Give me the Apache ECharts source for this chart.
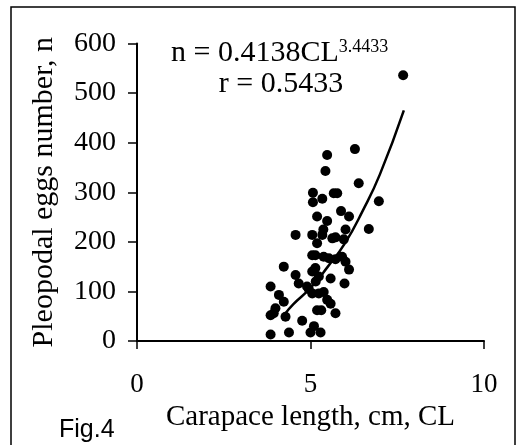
<!DOCTYPE html>
<html>
<head>
<meta charset="utf-8">
<script src="https://cdn.jsdelivr.net/npm/echarts@6/dist/echarts.min.js"></script>
<style>
  html, body { margin: 0; padding: 0; background: #fff; }
  #fig4 { width: 518px; height: 445px; }
</style>
</head>
<body>
<div id="fig4"></div>
<script>
// carapace length (cm) and egg count
var clValues = [7.67, 5.48, 6.28, 5.43, 6.39, 6.97, 6.68, 5.07, 5.07, 5.34,
  5.67, 5.77, 5.88, 6.11, 5.19, 5.48, 5.37, 5.05, 4.57, 5.34,
  5.63, 5.72, 6.01, 5.96, 5.19, 5.05, 5.14, 5.38, 5.53, 5.72,
  5.91, 6.01, 6.11, 5.98, 5.58, 5.14, 5.05, 5.24, 4.23, 4.57,
  4.66, 4.90, 5.05, 5.24, 5.38, 5.48, 5.58, 5.72, 5.19, 5.31,
  3.85, 4.09, 4.23, 3.99, 3.85, 4.28, 4.76, 4.38, 5.10, 5.00,
  5.29, 3.85, 3.94, 4.95, 5.15];
var eggValues = [536, 375, 387, 343, 318, 282, 226, 299, 280, 287,
  298, 298, 262, 251, 251, 242, 225, 214, 214, 214,
  207, 209, 225, 205, 197, 173, 173, 170, 167, 165,
  170, 160, 144, 116, 126, 147, 140, 130, 150, 133,
  116, 110, 96, 96, 99, 83, 75, 56, 62, 62,
  110, 93, 79, 66, 52, 49, 41, 17, 30, 17,
  17, 13, 56, 105, 120];

// fitted power curve n = 0.4138 CL^3.4433, as drawn
var fitX = [4.28, 4.5, 5.0, 5.5, 6.0, 6.5, 7.0, 7.69];
var fitY = [56, 74, 107, 150, 198, 262, 336, 465];

var xTicks = [0, 5, 10];
var yTicks = [0, 100, 200, 300, 400, 500, 600];

var points = clValues.map(function (x, i) { return [x, eggValues[i]]; });
var curve = fitX.map(function (x, i) { return [x, fitY[i]]; });

var serif = '"Liberation Serif", "Times New Roman", serif';

var myChart = echarts.init(document.getElementById('fig4'));
var option = {
  animation: false,
  backgroundColor: '#fff',
  grid: { left: 137, right: 34, top: 43.5, bottom: 104 },
  xAxis: {
    type: 'value',
    min: xTicks[0],
    max: xTicks[xTicks.length - 1],
    interval: 5,
    name: 'Carapace length, cm, CL',
    nameLocation: 'middle',
    nameGap: 44,
    nameTextStyle: { fontFamily: serif, fontSize: 29, color: '#000' },
    axisLine: { lineStyle: { color: '#000', width: 2 } },
    axisTick: { length: 8, lineStyle: { color: '#000', width: 1.5 } },
    axisLabel: { fontFamily: serif, fontSize: 27, color: '#000', margin: 30 },
    splitLine: { show: false }
  },
  yAxis: {
    type: 'value',
    min: yTicks[0],
    max: yTicks[yTicks.length - 1],
    interval: 100,
    name: 'Pleopodal eggs number, n',
    nameLocation: 'middle',
    nameGap: 78,
    nameTextStyle: { fontFamily: serif, fontSize: 30, color: '#000' },
    axisLine: { show: true, lineStyle: { color: '#000', width: 2 } },
    axisTick: { show: true, length: 9, lineStyle: { color: '#000', width: 1.5 } },
    axisLabel: { fontFamily: serif, fontSize: 28, color: '#000', margin: 21 },
    splitLine: { show: false }
  },
  series: [
    {
      type: 'scatter',
      data: points,
      symbolSize: 10,
      itemStyle: { color: '#000', opacity: 1 }
    },
    {
      type: 'line',
      data: curve,
      smooth: true,
      symbol: 'none',
      lineStyle: { color: '#000', width: 2.5 }
    }
  ],
  graphic: [
    {
      type: 'rect',
      shape: { x: 11, y: 7, width: 504, height: 445 },
      style: { fill: 'none', stroke: '#000', lineWidth: 1.5 }
    },
    {
      type: 'text',
      x: 171, y: 53,
      style: {
        text: '{a|n = 0.4138CL}{b|3.4433}',
        verticalAlign: 'middle',
        rich: {
          a: { fontFamily: serif, fontSize: 30, fill: '#000' },
          b: { fontFamily: serif, fontSize: 18, fill: '#000', padding: [0, 0, 12, 0] }
        }
      }
    },
    {
      type: 'text',
      x: 281, y: 84,
      style: {
        text: 'r = 0.5433',
        fontFamily: serif, fontSize: 30, fill: '#000',
        align: 'center', verticalAlign: 'middle'
      }
    },
    {
      type: 'text',
      x: 59, y: 430,
      style: {
        text: 'Fig.4',
        fontFamily: '"Liberation Sans", Arial, sans-serif', fontSize: 25, fill: '#000',
        verticalAlign: 'middle'
      }
    }
  ]
};
myChart.setOption(option);
</script>
</body>
</html>
